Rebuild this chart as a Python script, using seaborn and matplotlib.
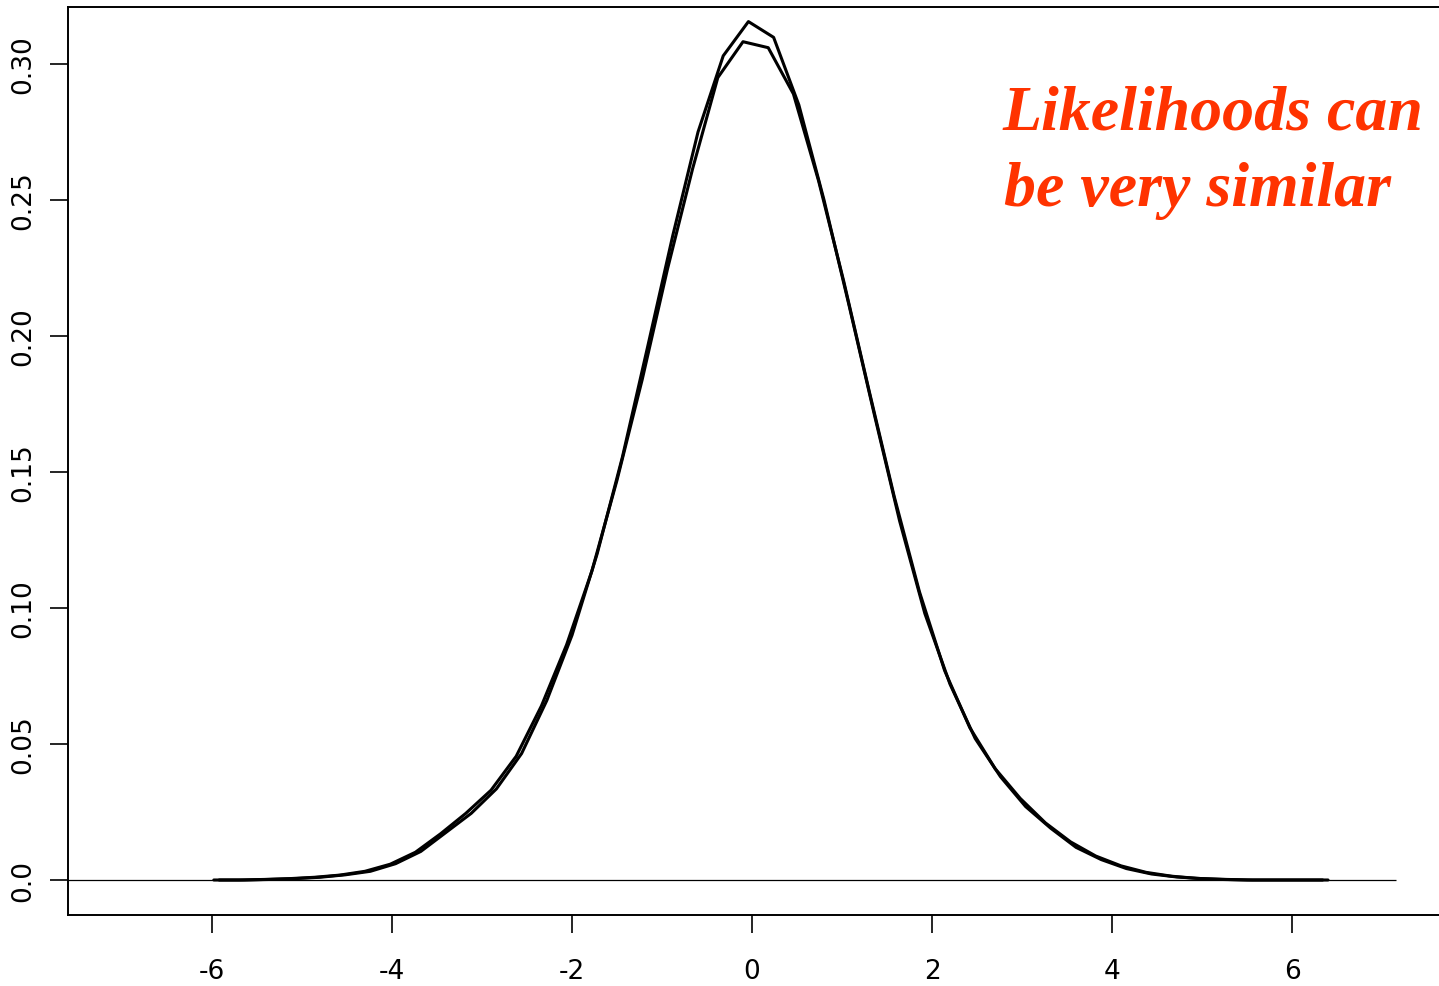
import matplotlib
matplotlib.use("Agg")
import matplotlib.pyplot as plt
import seaborn as sns
import pandas as pd

# ---- data ----
x_a = [-5.92, -5.64, -5.36, -5.08, -4.80, -4.52, -4.24, -3.96, -3.68, -3.40,
       -3.12, -2.84, -2.56, -2.28, -2.00, -1.72, -1.44, -1.16, -0.88, -0.60,
       -0.32, -0.04, 0.24, 0.52, 0.80, 1.08, 1.36, 1.64, 1.92, 2.20,
       2.48, 2.76, 3.04, 3.32, 3.60, 3.88, 4.16, 4.44, 4.72, 5.00,
       5.28, 5.56, 5.84, 6.12, 6.40]
y_a = [0.0000, 0.0000, 0.0002, 0.0005, 0.0010, 0.0019, 0.0032, 0.0060, 0.0105, 0.0175,
       0.0245, 0.0335, 0.0465, 0.0660, 0.0900, 0.1200, 0.1555, 0.1960, 0.2370, 0.2750,
       0.3030, 0.3156, 0.3098, 0.2850, 0.2500, 0.2110, 0.1710, 0.1320, 0.0980, 0.0720,
       0.0520, 0.0380, 0.0270, 0.0190, 0.0120, 0.0075, 0.0042, 0.0022, 0.0011, 0.0005,
       0.0002, 0.0000, 0.0000, 0.0000, 0.0000]

x_b = [-5.98, -5.70, -5.42, -5.14, -4.86, -4.58, -4.30, -4.02, -3.74, -3.46,
       -3.18, -2.90, -2.62, -2.34, -2.06, -1.78, -1.50, -1.22, -0.94, -0.66,
       -0.38, -0.10, 0.18, 0.46, 0.74, 1.02, 1.30, 1.58, 1.86, 2.14,
       2.42, 2.70, 2.98, 3.26, 3.54, 3.82, 4.10, 4.38, 4.66, 4.94,
       5.22, 5.50, 5.78, 6.06, 6.34]
y_b = [0.0000, 0.0000, 0.0002, 0.0005, 0.0010, 0.0018, 0.0032, 0.0058, 0.0102, 0.0170,
       0.0245, 0.0330, 0.0455, 0.0640, 0.0865, 0.1135, 0.1470, 0.1840, 0.2245, 0.2615,
       0.2950, 0.3082, 0.3060, 0.2890, 0.2570, 0.2200, 0.1800, 0.1410, 0.1060, 0.0770,
       0.0560, 0.0410, 0.0300, 0.0210, 0.0140, 0.0088, 0.0052, 0.0028, 0.0014, 0.0006,
       0.0002, 0.0000, 0.0000, 0.0000, 0.0000]

x_ticks = [-6, -4, -2, 0, 2, 4, 6]
y_ticks = [0.0, 0.05, 0.10, 0.15, 0.20, 0.25, 0.30]
y_tick_labels = ["0.0", "0.05", "0.10", "0.15", "0.20", "0.25", "0.30"]
zero_line_end = 7.16
note_lines = ["Likelihoods can", "be very similar"]

# ---- figure ----
sns.set_style("white")
plt.rcParams["font.family"] = ["DejaVu Sans"]

W, H = 1439, 987
fig = plt.figure(figsize=(W / 100, H / 100), dpi=100)
ax = fig.add_axes([68 / W, (H - 916) / H, (W - 68) / W, (916 - 8) / H])

df_a = pd.DataFrame({"x": x_a, "y": y_a})
df_b = pd.DataFrame({"x": x_b, "y": y_b})

ax.hlines(0, -7.6, zero_line_end, color="black", lw=0.9, zorder=1)
sns.lineplot(data=df_a, x="x", y="y", ax=ax, sort=False, estimator=None,
             color="black", lw=2.2, zorder=3)
sns.lineplot(data=df_b, x="x", y="y", ax=ax, sort=False, estimator=None,
             color="black", lw=2.2, zorder=3)

ax.set_xlim(-7.6, 7.633)
ax.set_ylim(-0.01287, 0.32096)
ax.set_xlabel("")
ax.set_ylabel("")

ax.set_xticks(x_ticks)
ax.set_xticklabels([str(t) for t in x_ticks])
ax.set_yticks(y_ticks)
ax.set_yticklabels(y_tick_labels, rotation=90, va="center")

for side in ["left", "bottom", "top"]:
    ax.spines[side].set_visible(True)
    ax.spines[side].set_color("black")
    ax.spines[side].set_linewidth(1.4)
ax.spines["right"].set_visible(False)

ax.tick_params(axis="both", which="both", direction="out", length=13,
               width=1.2, color="black", labelsize=19, labelcolor="black",
               left=True, bottom=True)
ax.tick_params(axis="x", pad=18)
ax.tick_params(axis="y", pad=10)

red = "#FF3300"
fig.text(1002 / W, 1 - 130 / H, note_lines[0], color=red,
         family=["Liberation Serif", "DejaVu Serif"], style="italic",
         weight="bold", fontsize=46, va="baseline", ha="left")
fig.text(1004 / W, 1 - 206 / H, note_lines[1], color=red,
         family=["Liberation Serif", "DejaVu Serif"], style="italic",
         weight="bold", fontsize=46, va="baseline", ha="left")

fig.savefig("out.png", dpi=100, facecolor="white")
